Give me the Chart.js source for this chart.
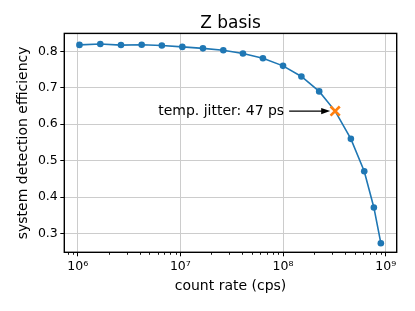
<!DOCTYPE html>
<html>
<head>
<meta charset="utf-8">
<script src="https://cdn.jsdelivr.net/npm/chart.js@4/dist/chart.umd.min.js"></script>
<style>
html,body{margin:0;padding:0;background:#fff;}
canvas{display:block;}
</style>
</head>
<body>
<canvas id="c" width="415" height="311"></canvas>
<script>
// ---- data ----
const countRates = [1.04e6, 1.66e6, 2.64e6, 4.2e6, 6.6e6, 1.045e7, 1.66e7, 2.62e7, 4.07e7, 6.37e7, 1.0e8, 1.51e8, 2.25e8, 3.22e8, 4.58e8, 6.18e8, 7.67e8, 8.97e8];
const efficiency = [0.8175, 0.820, 0.817, 0.818, 0.816, 0.812, 0.808, 0.803, 0.794, 0.781, 0.760, 0.731, 0.690, 0.636, 0.560, 0.471, 0.372, 0.274];
const jitterIndex = 13;
const jitterLabel = 'temp. jitter: 47 ps';
const xTickValues = [1e6, 1e7, 1e8, 1e9];
const xTickLabels = ['10\u2076', '10\u2077', '10\u2078', '10\u2079'];
const yTickValues = [0.3, 0.4, 0.5, 0.6, 0.7, 0.8];
const yTickLabels = ['0.3', '0.4', '0.5', '0.6', '0.7', '0.8'];
const titleText = 'Z basis';
const xLabel = 'count rate (cps)';
const yLabel = 'system detection efficiency';

const FONT = "'DejaVu Sans', sans-serif";
Chart.defaults.font.family = FONT;
Chart.defaults.color = '#000';

const mainData = countRates.map((x, i) => ({x: x, y: efficiency[i]}));
const jitterData = [{x: countRates[jitterIndex], y: efficiency[jitterIndex]}];

const extras = {
  id: 'extras',
  beforeDatasetsDraw(chart) {
    const ctx = chart.ctx;
    const xs = chart.scales.x, ys = chart.scales.y;
    const px = xs.getPixelForValue(jitterData[0].x);
    const py = ys.getPixelForValue(jitterData[0].y);
    ctx.save();
    ctx.fillStyle = '#000';
    ctx.font = '14px ' + FONT;
    ctx.textAlign = 'right';
    ctx.textBaseline = 'middle';
    ctx.fillText(jitterLabel, px - 51, py);
    // arrow
    const x0 = px - 46, x1 = px - 5;
    ctx.strokeStyle = '#000';
    ctx.lineWidth = 1.3;
    ctx.beginPath();
    ctx.moveTo(x0, py);
    ctx.lineTo(x1 - 7, py);
    ctx.stroke();
    ctx.beginPath();
    ctx.moveTo(x1, py);
    ctx.lineTo(x1 - 9, py - 3.2);
    ctx.lineTo(x1 - 9, py + 3.2);
    ctx.closePath();
    ctx.fill();
    ctx.restore();
  },
  afterDatasetsDraw(chart) {
    const ctx = chart.ctx;
    const a = chart.chartArea;
    const xs = chart.scales.x;
    ctx.save();
    // minor ticks
    ctx.strokeStyle = '#000';
    ctx.lineWidth = 0.9;
    for (let d = 5; d <= 9; d++) {
      for (let m = 2; m <= 9; m++) {
        const v = m * Math.pow(10, d);
        if (v < xs.min || v > xs.max) continue;
        const p = Math.round(xs.getPixelForValue(v)) + 0.5;
        ctx.beginPath();
        ctx.moveTo(p, a.bottom);
        ctx.lineTo(p, a.bottom + 2.5);
        ctx.stroke();
      }
    }
    // spines
    ctx.lineWidth = 1.4;
    ctx.strokeRect(a.left, a.top, a.right - a.left, a.bottom - a.top);
    ctx.restore();
  }
};

new Chart(document.getElementById('c'), {
  type: 'line',
  data: {
    datasets: [
      {
        data: jitterData,
        borderColor: '#ff7f0e',
        backgroundColor: '#ff7f0e',
        pointStyle: 'crossRot',
        pointRadius: 6.5,
        pointBorderWidth: 2.6,
        showLine: false,
        order: 0
      },
      {
        data: mainData,
        borderColor: '#1f77b4',
        backgroundColor: '#1f77b4',
        borderWidth: 1.6,
        pointRadius: (c) => c.dataIndex === jitterIndex ? 0 : 3.3,
        pointBorderWidth: 0,
        tension: 0,
        order: 1
      }
    ]
  },
  options: {
    responsive: false,
    animation: false,
    devicePixelRatio: 1,
    layout: {padding: {left: 0, right: 18.3, top: 0, bottom: 0}},
    plugins: {
      legend: {display: false},
      tooltip: {enabled: false},
      title: {
        display: true,
        text: titleText,
        fullSize: false,
        color: '#000',
        font: {size: 17, weight: 'normal', family: FONT},
        padding: {top: 13, bottom: 0}
      }
    },
    scales: {
      x: {
        type: 'logarithmic',
        min: 740500,
        max: 1.28e9,
        afterBuildTicks: (s) => { s.ticks = xTickValues.map(v => ({value: v})); },
        afterFit: (s) => { s.height = 58.7; },
        ticks: {
          callback: (v) => { const i = xTickValues.indexOf(v); return i >= 0 ? xTickLabels[i] : ''; },
          font: {size: 12.5},
          color: '#000',
          padding: 2.5,
          maxRotation: 0,
          autoSkip: false
        },
        grid: {color: '#cccccc', lineWidth: 1, tickColor: '#000', tickLength: 4, drawTicks: true},
        border: {display: false},
        title: {display: true, text: xLabel, color: '#000', font: {size: 14}, padding: {top: 0, bottom: 16}}
      },
      y: {
        type: 'linear',
        min: 0.249,
        max: 0.849,
        afterBuildTicks: (s) => { s.ticks = yTickValues.map(v => ({value: v})); },
        afterFit: (s) => { s.width = 64.3; },
        ticks: {
          callback: (v) => { const i = yTickValues.findIndex(t => Math.abs(t - v) < 1e-9); return i >= 0 ? yTickLabels[i] : ''; },
          font: {size: 12.5},
          color: '#000',
          padding: 2.5,
          autoSkip: false
        },
        grid: {color: '#cccccc', lineWidth: 1, tickColor: '#000', tickLength: 4, drawTicks: true},
        border: {display: false},
        title: {display: true, text: yLabel, color: '#000', font: {size: 14}, padding: {top: 14.6, bottom: 0}}
      }
    }
  },
  plugins: [extras]
});
</script>
</body>
</html>
